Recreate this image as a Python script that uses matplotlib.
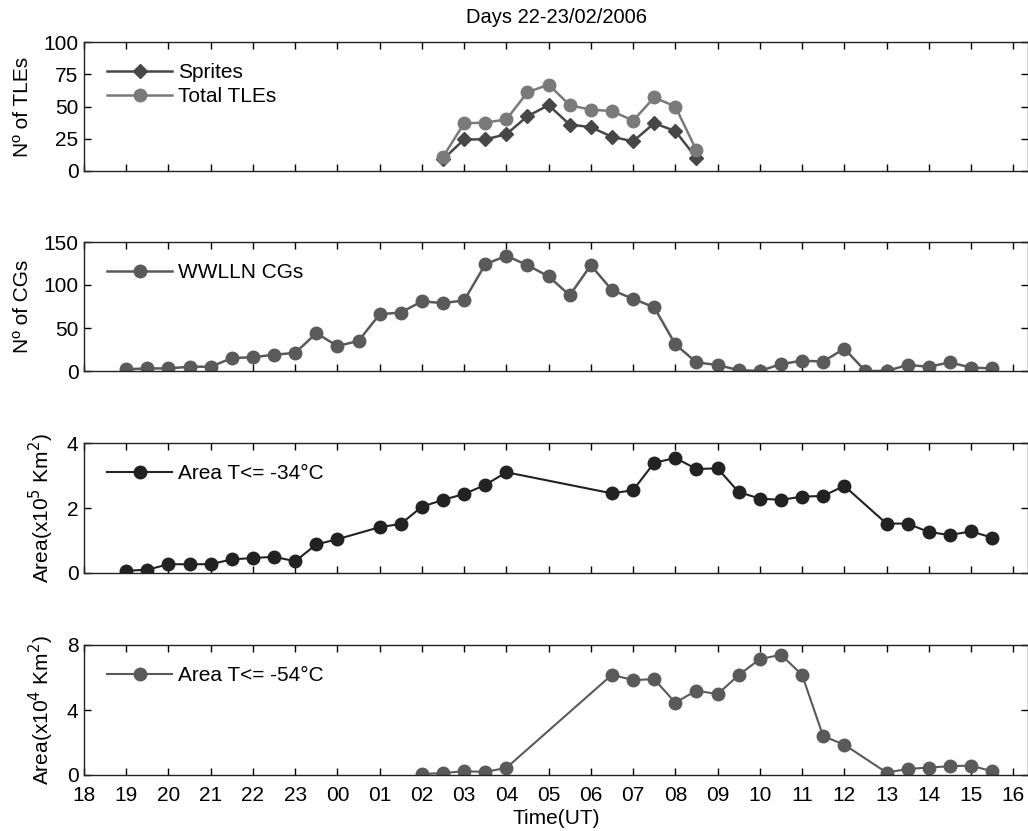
import matplotlib
matplotlib.use('Agg')
import matplotlib.pyplot as plt

plt.rcParams['font.family'] = ['Liberation Sans', 'DejaVu Sans']

# hour labels on the x axis (18:00 on day 22 to 16:00 on day 23)
hour_labels = ['18', '19', '20', '21', '22', '23', '00', '01', '02', '03', '04',
               '05', '06', '07', '08', '09', '10', '11', '12', '13', '14', '15', '16']

# TLE counts, every half hour from 02:30 to 08:30
tle_times = [8.5, 9, 9.5, 10, 10.5, 11, 11.5, 12, 12.5, 13, 13.5, 14, 14.5]
sprites = [9, 24.5, 24.5, 28.5, 42.5, 51, 36, 34, 26.5, 23, 37, 31, 10]
total_tles = [11, 37, 37.5, 40, 61, 67, 51, 47.5, 46.5, 39, 57, 50, 16]

# WWLLN CG counts, every half hour from 19:00 to 15:30
cg_times = [1 + 0.5 * i for i in range(42)]
cgs = [2, 3, 3, 5, 5, 15, 16, 19, 21, 44, 29, 35, 66, 68, 81, 79, 82, 124, 134, 123,
       110, 88, 123, 94, 84, 74, 31, 10, 7, 1, 0, 8, 12, 11, 26, 0, 0, 7, 5, 10, 4, 3]

# cloud area T <= -34 C (x10^5 km^2)
a34_times = [1, 1.5, 2, 2.5, 3, 3.5, 4, 4.5, 5, 5.5, 6, 7, 7.5, 8, 8.5, 9, 9.5, 10,
             12.5, 13, 13.5, 14, 14.5, 15, 15.5, 16, 16.5, 17, 17.5, 18, 19, 19.5,
             20, 20.5, 21, 21.5]
a34 = [0.07, 0.1, 0.27, 0.27, 0.27, 0.42, 0.46, 0.5, 0.36, 0.88, 1.04, 1.41, 1.51,
       2.04, 2.25, 2.43, 2.71, 3.1, 2.45, 2.55, 3.39, 3.54, 3.2, 3.22, 2.49, 2.29,
       2.25, 2.35, 2.37, 2.68, 1.52, 1.52, 1.26, 1.17, 1.28, 1.09]

# cloud area T <= -54 C (x10^4 km^2)
a54_times = [8, 8.5, 9, 9.5, 10, 12.5, 13, 13.5, 14, 14.5, 15, 15.5, 16, 16.5, 17,
             17.5, 18, 19, 19.5, 20, 20.5, 21, 21.5]
a54 = [0.06, 0.12, 0.23, 0.19, 0.44, 6.17, 5.84, 5.9, 4.45, 5.2, 4.97, 6.15, 7.13,
       7.4, 6.17, 2.39, 1.87, 0.15, 0.37, 0.46, 0.54, 0.58, 0.23]

W, H = 1028, 831
fig = plt.figure(figsize=(W / 100, H / 100), dpi=100)

left = 84 / W
width = 1 - left
tops = [42, 242, 443, 645]
bottoms = [171, 371, 573, 775]
axes = []
for t, b in zip(tops, bottoms):
    ax = fig.add_axes([left, 1 - b / H, width, (b - t) / H])
    axes.append(ax)

for ax in axes:
    ax.set_xlim(0, 22.35)
    ax.set_xticks(range(23))
    ax.tick_params(direction='in', length=5, top=True, right=True, labelsize=15,
                   width=1, pad=4)
    ax.tick_params(axis='x', pad=8)
    ax.set_xticklabels([])
    for s in ax.spines.values():
        s.set_linewidth(1)
        s.set_color('#222222')

leg_kw = dict(loc='upper left', frameon=False, fontsize=15, handlelength=3.1,
              borderaxespad=0.0, labelspacing=0.25, handletextpad=0.3,
              bbox_to_anchor=(0.016, 0.9))

# panel 1
ax = axes[0]
ax.plot(tle_times, sprites, '-D', color='#474747', lw=1.8, ms=7, label='Sprites')
ax.plot(tle_times, total_tles, '-o', color='#7a7a7a', lw=1.8, ms=9, label='Total TLEs')
ax.set_ylim(0, 100)
ax.set_yticks([0, 25, 50, 75, 100])
ax.set_ylabel('Nº of TLEs', fontsize=15, labelpad=8)
ax.set_title('Days 22-23/02/2006', fontsize=14.5, pad=14)
ax.legend(**leg_kw)

# panel 2
ax = axes[1]
ax.plot(cg_times, cgs, '-o', color='#5a5a5a', lw=1.8, ms=9, label='WWLLN CGs')
ax.set_ylim(0, 150)
ax.set_yticks([0, 50, 100, 150])
ax.set_ylabel('Nº of CGs', fontsize=15, labelpad=8)
ax.legend(**leg_kw)

# panel 3
ax = axes[2]
ax.plot(a34_times, a34, '-o', color='#222222', lw=1.5, ms=9, label='Area T<= -34°C')
ax.set_ylim(0, 4)
ax.set_yticks([0, 2, 4])
ax.set_ylabel('Area(x10$^5$ Km$^2$)', fontsize=15, labelpad=8)
ax.legend(**leg_kw)

# panel 4
ax = axes[3]
ax.plot(a54_times, a54, '-o', color='#5a5a5a', lw=1.5, ms=9, label='Area T<= -54°C')
ax.set_ylim(0, 8)
ax.set_yticks([0, 4, 8])
ax.set_ylabel('Area(x10$^4$ Km$^2$)', fontsize=15, labelpad=8)
ax.legend(**leg_kw)
ax.set_xticklabels(hour_labels)
ax.set_xlabel('Time(UT)', fontsize=15, labelpad=3)

fig.savefig('out.png', dpi=100)
